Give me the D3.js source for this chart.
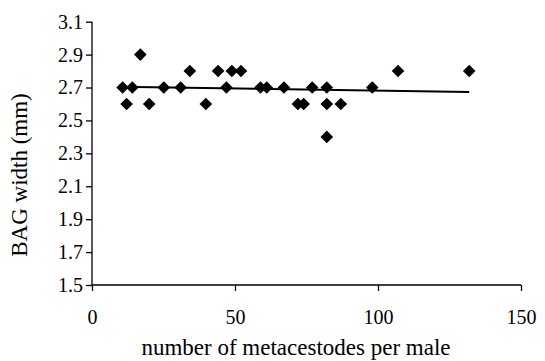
<!DOCTYPE html>
<html>
<head>
<meta charset="utf-8">
<script src="https://cdn.jsdelivr.net/npm/d3@7"></script>
<style>
  body { margin: 0; background: #fff; }
  svg text { font-family: "Liberation Serif", "Times New Roman", serif; fill: #000; }
</style>
</head>
<body>
<div id="chart"></div>
<script>
// metacestodes per male vs BAG width
var counts = [10.7, 12.1, 14.1, 16.9, 20.0, 25.1, 31.0, 34.2, 39.8, 44.1, 47.0, 48.9, 52.1,
              58.9, 61.1, 67.1, 72.0, 74.0, 77.0, 82.1, 82.1, 82.1, 87.0, 98.0, 107.0, 131.9];
var widths = [2.7, 2.6, 2.7, 2.9, 2.6, 2.7, 2.7, 2.8, 2.6, 2.8, 2.7, 2.8, 2.8,
              2.7, 2.7, 2.7, 2.6, 2.6, 2.7, 2.7, 2.6, 2.4, 2.6, 2.7, 2.8, 2.8];
var xTicks = [0, 50, 100, 150];
var yTicks = [1.5, 1.7, 1.9, 2.1, 2.3, 2.5, 2.7, 2.9, 3.1];

var width = 545, height = 361;
var plotLeft = 92, plotRight = 521, plotTop = 21.7, plotBottom = 285;

var svg = d3.select("#chart").append("svg")
  .attr("width", width)
  .attr("height", height);

var xScale = d3.scaleLinear().domain([0, 150]).range([plotLeft, plotRight]);
var yScale = d3.scaleLinear().domain([1.5, 3.1]).range([plotBottom, plotTop]);

var xAxis = d3.axisBottom(xScale).tickValues(xTicks).tickSize(6).tickFormat(d3.format("d"));
var yAxis = d3.axisLeft(yScale).tickValues(yTicks).tickSize(6).tickFormat(d3.format(".1f"));

var gx = svg.append("g")
  .attr("transform", "translate(0," + plotBottom + ")")
  .call(xAxis);
gx.select(".domain").attr("d", "M" + plotLeft + ",0H" + plotRight);
gx.selectAll(".tick text").attr("y", 25).attr("font-size", 20);

var gy = svg.append("g")
  .attr("transform", "translate(" + plotLeft + ",0)")
  .call(yAxis);
gy.select(".domain").attr("d", "M0," + plotTop + "V" + plotBottom);
gy.selectAll(".tick text").attr("x", -9).attr("font-size", 20);

svg.selectAll(".domain, .tick line").attr("stroke", "#000").attr("stroke-width", 1.3);

// linear trend line
var data = counts.map(function(c, i) { return { x: c, y: widths[i] }; });
var mx = d3.mean(data, function(d) { return d.x; });
var my = d3.mean(data, function(d) { return d.y; });
var sxy = d3.sum(data, function(d) { return (d.x - mx) * (d.y - my); });
var sxx = d3.sum(data, function(d) { return (d.x - mx) * (d.x - mx); });
var slope = sxy / sxx;
var icpt = my - slope * mx;
var x0 = 9.3, x1 = d3.max(counts);

svg.append("line")
  .attr("x1", xScale(x0)).attr("y1", yScale(icpt + slope * x0))
  .attr("x2", xScale(x1)).attr("y2", yScale(icpt + slope * x1))
  .attr("stroke", "#000")
  .attr("stroke-width", 2);

svg.selectAll("path.pt")
  .data(data)
  .enter()
  .append("path")
  .attr("class", "pt")
  .attr("d", "M0,-6.3L6.3,0L0,6.3L-6.3,0Z")
  .attr("transform", function(d) {
    return "translate(" + xScale(d.x) + "," + yScale(d.y) + ")";
  })
  .attr("fill", "#000");

svg.append("text")
  .attr("x", 296)
  .attr("y", 355)
  .attr("text-anchor", "middle")
  .attr("font-size", 23)
  .text("number of metacestodes per male");

svg.append("text")
  .attr("transform", "translate(27," + 175 + ")rotate(-90)")
  .attr("text-anchor", "middle")
  .attr("font-size", 23)
  .text("BAG width (mm)");
</script>
</body>
</html>
